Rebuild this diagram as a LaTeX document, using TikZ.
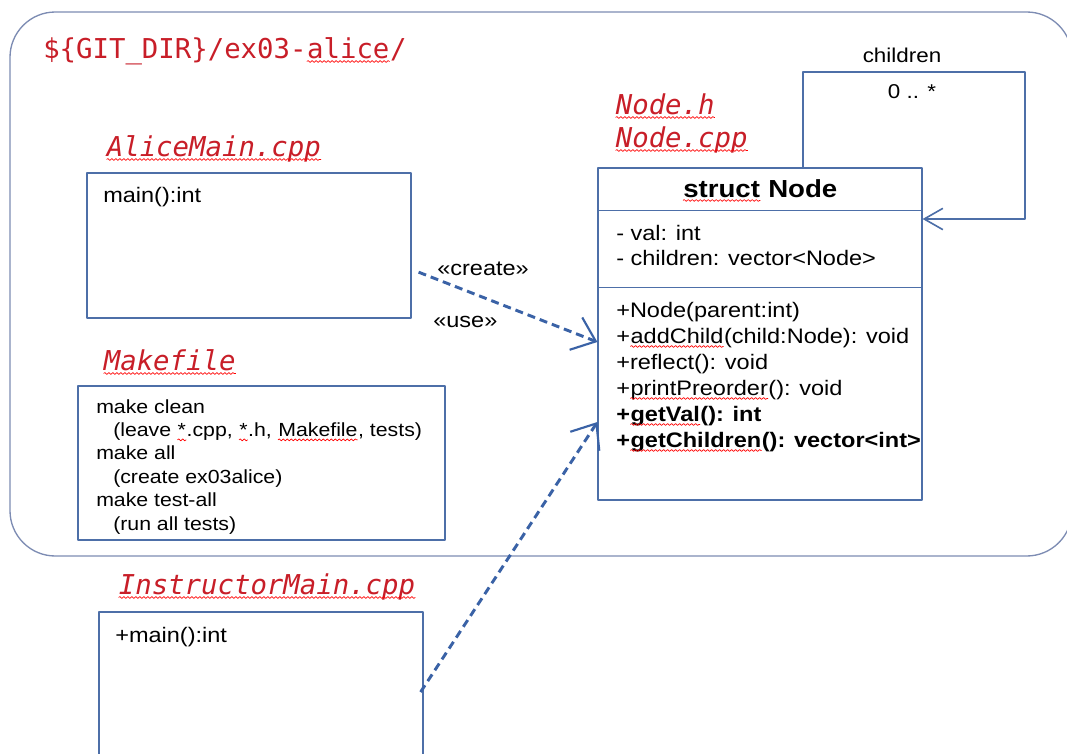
\documentclass[tikz,border=0pt]{standalone}
\usepackage{fontspec}
\setmainfont{Liberation Sans}[FakeStretch=1.12]
\newfontfamily\codefont{DejaVu Sans Mono}[ItalicFont={DejaVu Sans Mono Oblique}]
\usetikzlibrary{arrows.meta, decorations.pathmorphing}

\definecolor{umlblue}{HTML}{4D6FA8}
\definecolor{depblue}{HTML}{3A62A6}
\definecolor{framegray}{HTML}{7D8CB3}
\definecolor{filered}{HTML}{C81E28}

% red wavy underline
\newcommand\spell[1]{\tikz[baseline=(w.base)]{\node[inner sep=0pt] (w) {#1};
  \draw[red, line width=0.5pt, decorate, decoration={snake, amplitude=0.7pt, segment length=3pt}]
    ([yshift=-2.6pt]w.base west) -- ([yshift=-2.6pt]w.base east);}}

\tikzset{
  box/.style={draw=umlblue, line width=0.9pt, inner sep=0pt},
  member/.style={anchor=base west, inner sep=0pt, font=\fontsize{15.75}{19}\selectfont},
  makeline/.style={member, font=\fontsize{14.25}{17}\selectfont},
  filename/.style={anchor=base west, inner sep=0pt, text=filered, font=\codefont\itshape\fontsize{20.5}{24}\selectfont},
  dep/.style={depblue, line width=2.2pt, dash pattern=on 6pt off 3.75pt, -{Straight Barb[length=16pt,width=26pt,line width=1.6pt]}},
  assoc/.style={umlblue, line width=0.9pt, -{Straight Barb[length=14pt,width=16pt,line width=1.2pt]}}
}

\begin{document}
\begin{tikzpicture}[x=0.75pt, y=-0.75pt, line join=round]
  \useasboundingbox (0,0) rectangle (1067,753);
  \fill[white] (0,0) rectangle (1067,753);
  \draw[framegray, line width=1pt, rounded corners=34pt] (10,12) rectangle (1072,556);
  \node[filename, font=\codefont\fontsize{20.5}{24}\selectfont] (gitdir) at (43,58) {\$\{GIT\char"5F DIR\}/ex03-\spell{alice}/};

  % AliceMain.cpp
  \node[box, minimum width=243pt, minimum height=108.75pt] (alice) at (249,245.5) {};
  \node[filename] (alicefile) at (106,156) {\spell{AliceMain.cpp}};
  \node[member] (alicemain) at (103,202) {main():int};

  % Makefile
  \node[box, minimum width=275.25pt, minimum height=115.5pt] (make) at (261.5,463) {};
  \node[filename] (makefile) at (103,370) {\spell{Makefile}};
  \foreach \x/\txt [count=\i] in {96/make clean, 113/{(leave \spell{*}.cpp, \spell{*}.h, \spell{Makefile}, tests)},
      96/make all, 113/(create ex03alice), 96/make test-all, 113/(run all tests)}
    \node[makeline] (make\i) at (\x,{389.6+23.4*\i}) {\txt};

  % InstructorMain.cpp
  \node[box, minimum width=243pt, minimum height=135pt] (instr) at (261,702) {};
  \node[filename] (instrfile) at (118,594) {\spell{InstructorMain.cpp}};
  \node[member] (instrmain) at (115,642) {+main():int};

  % struct Node
  \node[filename] (nodeh) at (615,114) {\spell{Node.h}};
  \node[filename] (nodecpp) at (615,147) {\spell{Node.cpp}};
  \node[box, minimum width=243pt, minimum height=249pt] (cls) at (760,334) {};
  \draw[umlblue, line width=0.9pt] ([yshift=-32.25pt]cls.north west) -- ([yshift=-32.25pt]cls.north east)
    ([yshift=-90pt]cls.north west) -- ([yshift=-90pt]cls.north east);
  \node[anchor=base, inner sep=0pt, font=\bfseries\fontsize{18.5}{22}\selectfont] (clsname) at (760,197) {\spell{struct} Node};
  \node[member] (val) at (616,240) {- val: int};
  \node[member] (kids) at (616,265) {- children: vector<Node>};
  \foreach \txt [count=\i] in {+Node(parent:int), +\spell{addChild}(child:Node): void, +reflect(): void,
      +\spell{printPreorder}(): void, \textbf{+\spell{getVal}(): int}, \textbf{+\spell{getChildren}(): vector<int>}}
    \node[member] (op\i) at (616,{291+26*\i}) {\txt};

  % children association
  \draw[assoc] ([xshift=32.25pt]cls.north) |- (1025,72) |- ([yshift=86.25pt]cls.east);
  \node[member, anchor=base, font=\fontsize{15}{18}\selectfont] (role) at (902,62) {children};
  \node[member, anchor=base, font=\fontsize{15}{18}\selectfont] (mult) at (912,98) {0 .. *};

  % dependencies
  \draw[dep] ([shift={(5.25pt,-20pt)}]alice.east) -- ([yshift=-6pt]cls.west);
  \node[member] (create) at (437,275) {«create»};
  \node[member] (use) at (433,327) {«use»};
  \draw[dep] ([shift={(-2.25pt,7.5pt)}]instr.east) -- ([yshift=-66pt]cls.west);
\end{tikzpicture}
\end{document}
